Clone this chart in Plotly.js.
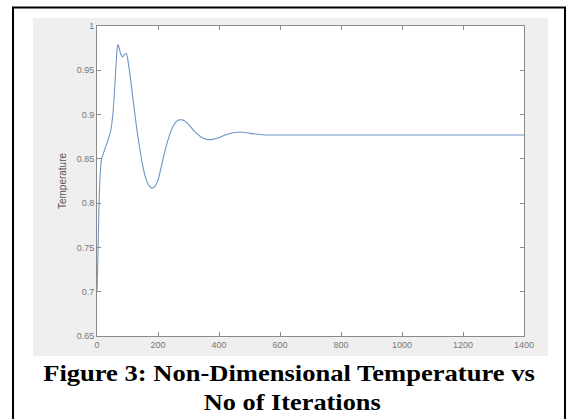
<!DOCTYPE html>
<html>
<head>
<meta charset="utf-8">
<script src="https://cdn.plot.ly/plotly-3.0.1.min.js"></script>
<style>html,body{margin:0;padding:0;background:#fff;}#chart{width:568px;height:419px;}</style>
</head>
<body>
<div id="chart"></div>
<script>
var iterations = [0, 3, 6, 10, 15, 25, 35, 45, 52, 58, 64, 68, 72, 78, 84, 90, 96, 100, 110, 120, 130, 140, 150, 160, 170, 180, 190, 200, 210, 220, 230, 240, 250, 260, 270, 280, 290, 300, 320, 340, 360, 380, 400, 420, 440, 460, 480, 500, 520, 550, 600, 700, 800, 900, 1000, 1100, 1200, 1300, 1400];
var temperature = [0.700, 0.740, 0.790, 0.830, 0.850, 0.860, 0.870, 0.882, 0.900, 0.930, 0.965, 0.979, 0.976, 0.968, 0.965, 0.968, 0.969, 0.964, 0.940, 0.912, 0.885, 0.862, 0.842, 0.828, 0.820, 0.817, 0.819, 0.826, 0.840, 0.855, 0.868, 0.879, 0.887, 0.892, 0.894, 0.894, 0.892, 0.889, 0.881, 0.875, 0.872, 0.872, 0.874, 0.877, 0.879, 0.880, 0.880, 0.879, 0.878, 0.877, 0.877, 0.877, 0.877, 0.877, 0.877, 0.877, 0.877, 0.877, 0.877];
var xTicks = [0, 200, 400, 600, 800, 1000, 1200, 1400];
var yTicks = [0.65, 0.7, 0.75, 0.8, 0.85, 0.9, 0.95, 1];
var yTickText = ['0.65', '0.7', '0.75', '0.8', '0.85', '0.9', '0.95', '1'];
var yLabel = 'Temperature';
var captionLine1 = 'Figure 3: Non-Dimensional Temperature vs';
var captionLine2 = 'No of Iterations';

var trace = {
  x: iterations, y: temperature, type: 'scatter', mode: 'lines',
  line: {color: '#6d96c4', width: 1.1, shape: 'spline', smoothing: 0.6},
  hoverinfo: 'skip'
};
var tickFont = {family: 'Liberation Sans, Arial, sans-serif', size: 9, color: '#777'};
var layout = {
  width: 568, height: 419,
  margin: {l: 97, r: 44, t: 26, b: 83, pad: 0},
  paper_bgcolor: '#ffffff',
  plot_bgcolor: 'rgba(0,0,0,0)',
  showlegend: false,
  xaxis: {
    range: [0, 1400], tickvals: xTicks, ticktext: xTicks.map(String),
    ticks: 'inside', ticklen: 4, tickcolor: '#8a8a8a',
    showline: true, linecolor: '#8a8a8a', linewidth: 1, mirror: 'ticks',
    showgrid: false, zeroline: false, tickfont: tickFont
  },
  yaxis: {
    range: [0.65, 1], tickvals: yTicks, ticktext: yTickText,
    ticks: 'inside', ticklen: 4, tickcolor: '#8a8a8a',
    showline: true, linecolor: '#8a8a8a', linewidth: 1, mirror: 'ticks',
    showgrid: false, zeroline: false, tickfont: tickFont,
    title: {text: yLabel, font: {family: 'Liberation Sans, Arial, sans-serif', size: 10, color: '#555'}, standoff: 8}
  },
  shapes: [
    {type: 'rect', xref: 'paper', yref: 'paper', x0: -0.1499, x1: 1.0562, y0: -0.0645, y1: 1.0258,
     fillcolor: '#efefef', line: {width: 0}, layer: 'below'},
    {type: 'rect', xref: 'paper', yref: 'paper', x0: 0, x1: 1, y0: 0, y1: 1,
     fillcolor: '#ffffff', line: {width: 0}, layer: 'below'},
    {type: 'rect', xref: 'paper', yref: 'paper', x0: -0.1967, x1: 1.096, y0: -0.35, y1: 1.0597,
     fillcolor: 'rgba(0,0,0,0)', line: {color: '#000', width: 2}, layer: 'above'}
  ],
  annotations: [
    {text: '<b>' + captionLine1 + '</b>', xref: 'paper', yref: 'paper', x: 0.4496, y: -0.121,
     xanchor: 'center', yanchor: 'middle', showarrow: false,
     font: {family: 'Liberation Serif, Times New Roman, serif', size: 23, color: '#000'}},
    {text: '<b>' + captionLine2 + '</b>', xref: 'paper', yref: 'paper', x: 0.459, y: -0.215,
     xanchor: 'center', yanchor: 'middle', showarrow: false,
     font: {family: 'Liberation Serif, Times New Roman, serif', size: 23, color: '#000'}}
  ]
};
Plotly.newPlot('chart', [trace], layout, {displayModeBar: false, staticPlot: true}).then(function (gd) {
  var targets = [492, 177];
  var texts = gd.querySelectorAll('.annotation-text');
  texts.forEach(function (t, i) {
    var bb = t.getBBox();
    var sx = targets[i] / bb.width;
    var cx = bb.x + bb.width / 2;
    t.setAttribute('transform', 'translate(' + cx + ',0) scale(' + sx + ',1) translate(' + (-cx) + ',0)');
  });
});
</script>
</body>
</html>
